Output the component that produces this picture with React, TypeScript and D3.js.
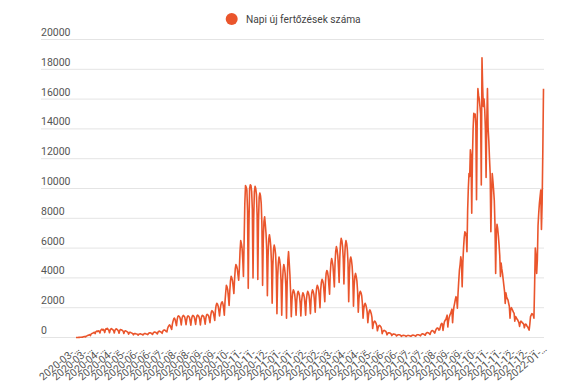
import React, { useEffect, useRef } from 'react';
import * as d3 from 'd3';

const seriesName = 'Napi új fertőzések száma';
const startDate = '2020-03-04';

// daily new cases, one row per 7 days starting at startDate
const dailyCases: number[] = [
  2, 0, 5, 4, 8, 10, 15,
  12, 20, 30, 25, 50, 60, 70,
  45, 90, 110, 130, 150, 170, 190,
  130, 230, 260, 280, 300, 330, 350,
  260, 380, 420, 440, 400, 450, 410,
  300, 480, 520, 560, 500, 540, 470,
  330, 520, 590, 560, 610, 540, 480,
  320, 500, 570, 600, 550, 520, 460,
  300, 480, 560, 580, 540, 500, 440,
  290, 460, 540, 520, 500, 470, 420,
  270, 400, 450, 430, 410, 380, 340,
  230, 320, 350, 330, 310, 290, 260,
  180, 250, 270, 260, 240, 230, 210,
  160, 220, 240, 250, 230, 220, 200,
  170, 230, 260, 270, 250, 240, 220,
  190, 270, 300, 320, 310, 290, 250,
  210, 310, 350, 370, 350, 330, 290,
  240, 360, 410, 430, 400, 380, 330,
  280, 420, 480, 510, 490, 460, 400,
  380, 600, 720, 800, 850, 780, 650,
  550, 900, 1100, 1250, 1300, 1200, 1000,
  800, 1200, 1400, 1450, 1420, 1350, 1150,
  850, 1250, 1430, 1480, 1440, 1380, 1150,
  860, 1200, 1400, 1450, 1420, 1350, 1100,
  830, 1220, 1420, 1480, 1450, 1380, 1150,
  880, 1250, 1450, 1500, 1460, 1380, 1200,
  850, 1230, 1430, 1490, 1450, 1400, 1180,
  900, 1300, 1500, 1550, 1520, 1450, 1250,
  1000, 1450, 1700, 1800, 1750, 1650, 1400,
  1150, 1800, 2150, 2300, 2250, 2100, 1800,
  1450, 1900, 2200, 2350, 2400, 2250, 1950,
  1500, 2400, 3000, 3500, 3400, 3200, 2700,
  2150, 3100, 3800, 4100, 4000, 3800, 3400,
  2950, 3900, 4600, 4900, 4800, 4600, 4200,
  3850, 4600, 5800, 6500, 6300, 6000, 5200,
  4100, 6500, 9000, 10200, 10100, 9900, 8500,
  3300, 7500, 10000, 10250, 10200, 9800, 8600,
  4000, 8000, 9800, 10150, 10000, 9600, 8200,
  3900, 7800, 9400, 9700, 9500, 9000, 7600,
  3500, 6500, 7800, 8100, 7600, 7000, 6000,
  2800, 5400, 6600, 6900, 6600, 6100, 5000,
  2300, 4800, 5900, 6200, 6000, 5600, 4500,
  1600, 4000, 5000, 5400, 5200, 4800, 3800,
  1500, 3600, 4500, 4900, 4700, 4300, 3500,
  1300, 3700, 5200, 5760, 5000, 4200, 3000,
  1400, 2500, 3000, 3200, 3100, 2900, 2400,
  1500, 2500, 2950, 3100, 3000, 2800, 2300,
  1450, 2400, 2800, 3000, 2900, 2700, 2200,
  1500, 2500, 2900, 3100, 3000, 2800, 2300,
  1600, 2600, 3000, 3200, 3100, 2900, 2400,
  1700, 2800, 3300, 3500, 3400, 3200, 2700,
  2000, 3200, 3700, 3900, 3800, 3600, 3000,
  2400, 3700, 4300, 4500, 4400, 4100, 3500,
  2900, 4300, 5000, 5300, 5100, 4800, 4100,
  3400, 5000, 5800, 6100, 5900, 5500, 4700,
  3700, 5400, 6300, 6650, 6500, 6100, 5300,
  3600, 5300, 6200, 6500, 6300, 5900, 5000,
  2400, 4300, 5200, 5400, 5200, 4800, 4000,
  2100, 3500, 4100, 4300, 4100, 3800, 3100,
  1700, 2600, 3000, 3100, 3000, 2800, 2300,
  1300, 1900, 2200, 2300, 2200, 2000, 1700,
  1000, 1500, 1750, 1850, 1750, 1600, 1350,
  600, 900, 1050, 1100, 1050, 950, 800,
  450, 650, 780, 820, 780, 720, 600,
  260, 400, 460, 480, 450, 420, 350,
  180, 260, 310, 320, 300, 280, 240,
  130, 190, 230, 240, 220, 210, 180,
  100, 150, 180, 190, 180, 170, 140,
  80, 120, 140, 150, 140, 130, 110,
  70, 110, 130, 140, 130, 120, 100,
  80, 120, 150, 160, 150, 140, 110,
  90, 150, 180, 190, 180, 170, 140,
  110, 190, 230, 250, 240, 220, 180,
  150, 260, 310, 340, 320, 300, 250,
  200, 350, 430, 470, 450, 420, 340,
  300, 450, 560, 620, 640, 600, 500,
  520, 700, 880, 950, 900, 480, 800,
  1050, 1150, 1200, 1350, 1500, 700, 1100,
  1350, 1500, 1600, 1750, 1900, 1000, 1700,
  2070, 2300, 2550, 2740, 2600, 1960, 3000,
  3800, 4530, 4900, 5420, 5100, 3400, 5000,
  6000, 6700, 7100, 7000, 6800, 5760, 8500,
  10000, 11000, 10800, 12600, 12200, 8340, 12000,
  14000, 15050, 14800, 15000, 14300, 9240, 14500,
  16700, 16250, 16000, 15500, 15000, 10240, 18780,
  16800, 15500, 16000, 15300, 14000, 10740, 14500,
  16700, 14000, 13200, 12000, 11000, 7100, 9500,
  11000, 10500, 9900, 9200, 7600, 4300, 7000,
  7600, 7300, 6800, 6200, 5500, 4100, 5000,
  4600, 4300, 3900, 3500, 3100, 2290, 3000,
  2740, 2600, 2520, 2300, 2100, 1300, 1900,
  2000, 1900, 1800, 1700, 1620, 1100, 1400,
  1350, 1250, 1200, 1100, 1000, 740, 1000,
  1100, 1050, 1000, 950, 900, 650, 850,
  900, 850, 750, 700, 600, 500, 900,
  1400, 1500, 1600, 1550, 1500, 1300, 3500,
  6000, 5500, 4300, 5200, 7500, 8340, 9000,
  9450, 9900, 7250, 9000, 12500, 16700,
];

const tickDates = [
  '2020-03-04', '2020-03-23', '2020-04-11', '2020-04-30', '2020-05-19', '2020-06-07',
  '2020-06-26', '2020-07-15', '2020-08-03', '2020-08-22', '2020-09-10', '2020-09-29',
  '2020-10-18', '2020-11-06', '2020-11-25', '2020-12-14', '2021-01-02', '2021-01-21',
  '2021-02-09', '2021-02-28', '2021-03-19', '2021-04-07', '2021-04-26', '2021-05-15',
  '2021-06-03', '2021-06-22', '2021-07-11', '2021-07-30', '2021-08-18', '2021-09-06',
  '2021-09-25', '2021-10-14', '2021-11-02', '2021-11-21', '2021-12-10', '2021-12-29',
  '2022-01-17',
];

const yTicks = [0, 2000, 4000, 6000, 8000, 10000, 12000, 14000, 16000, 18000, 20000];

const width = 588;
const height = 385;
const lineColor = '#ea552c';

export default function App() {
  const svgRef = useRef<SVGSVGElement>(null);

  useEffect(() => {
    if (!svgRef.current) return;
    const svg = d3.select(svgRef.current);
    svg.selectAll('*').remove();

    const parse = d3.utcParse('%Y-%m-%d');
    const t0 = parse(startDate) as Date;
    const dates = dailyCases.map((_, i) => d3.utcDay.offset(t0, i));

    const x = d3.scaleUtc().domain([t0, dates[dates.length - 1]]).range([76, 543.5]);
    const y = d3.scaleLinear().domain([0, 20000]).range([337.5, 39.5]);

    const font = 'Roboto, Arial, sans-serif';

    // gridlines + y labels
    const grid = svg.append('g');
    grid.selectAll('line')
      .data(yTicks)
      .enter()
      .append('line')
      .attr('x1', 41)
      .attr('x2', 544)
      .attr('y1', d => y(d))
      .attr('y2', d => y(d))
      .attr('stroke', '#e4e4e4')
      .attr('stroke-width', 1);

    grid.selectAll('text')
      .data(yTicks)
      .enter()
      .append('text')
      .attr('x', 41)
      .attr('y', d => y(d) - 3.5)
      .attr('font-family', font)
      .attr('font-size', '10.5px')
      .attr('fill', '#555')
      .text(d => String(d));

    // x labels, slanted and cut short
    svg.append('g')
      .selectAll('text')
      .data(tickDates)
      .enter()
      .append('text')
      .attr('transform', d => `translate(${x(parse(d) as Date) + 4},350) rotate(-40)`)
      .attr('text-anchor', 'end')
      .attr('font-family', font)
      .attr('font-size', '10.5px')
      .attr('fill', '#555')
      .text(d => d.slice(0, 8) + '…');

    const line = d3.line<number>()
      .x((_, i) => x(dates[i]))
      .y(d => y(d));

    svg.append('path')
      .datum(dailyCases)
      .attr('d', line)
      .attr('fill', 'none')
      .attr('stroke', lineColor)
      .attr('stroke-width', 1.6)
      .attr('stroke-linejoin', 'round');

    // legend
    const legend = svg.append('g');
    legend.append('circle')
      .attr('cx', 231.7)
      .attr('cy', 19)
      .attr('r', 6)
      .attr('fill', lineColor);
    legend.append('text')
      .attr('x', 246)
      .attr('y', 22.7)
      .attr('font-family', font)
      .attr('font-size', '10.2px')
      .attr('fill', '#444')
      .text(seriesName);
  }, []);

  return (
    <svg
      ref={svgRef}
      width={width}
      height={height}
      style={{ position: 'absolute', left: 0, top: 0, background: '#fff' }}
    />
  );
}
